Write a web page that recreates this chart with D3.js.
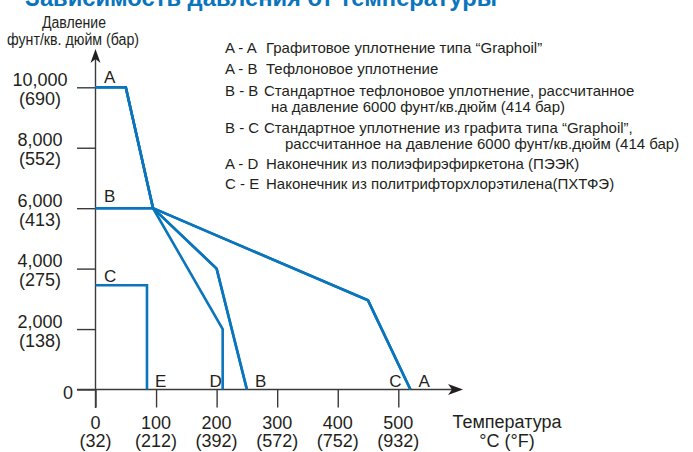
<!DOCTYPE html>
<html><head><meta charset="utf-8">
<script src="https://cdn.jsdelivr.net/npm/d3@7/dist/d3.min.js"></script>
<style>
body{margin:0;background:#fff}
svg{display:block}
text{font-family:"Liberation Sans",Arial,Helvetica,sans-serif;fill:#231f20}
</style>
</head><body>
<svg id="chart" width="693" height="452"></svg>
<script>
// ---------- data ----------
const titleText = "Зависимость давления от температуры";
const yTitle = ["Давление", "фунт/кв. дюйм (бар)"];
const xTitle = ["Температура", "°C (°F)"];

const xTicks = [0, 100, 200, 300, 400, 500];
const xTickC = ["0", "100", "200", "300", "400", "500"];
const xTickF = ["(32)", "(212)", "(392)", "(572)", "(752)", "(932)"];

const yTicks = [0, 2000, 4000, 6000, 8000, 10000];
const yTickPsi = ["0", "2,000", "4,000", "6,000", "8,000", "10,000"];
const yTickBar = ["", "(138)", "(275)", "(413)", "(552)", "(690)"];

// series: temperature (°C) and pressure (psi)
const seriesNames = ["A - A", "A - B", "B - B", "B - C", "A - D", "C - E"];
const tempAA = [0, 50, 95, 450, 520];   const presAA = [10000, 10000, 6000, 2950, 0];
const tempAB = [0, 50, 95, 200, 250];   const presAB = [10000, 10000, 6000, 4000, 0];
const tempBB = [0, 95, 200, 250];       const presBB = [6000, 6000, 4000, 0];
const tempBC = [0, 95, 450, 520];       const presBC = [6000, 6000, 2950, 0];
const tempAD = [0, 50, 95, 210, 210];   const presAD = [10000, 10000, 6000, 2000, 0];
const tempCE = [0, 85, 85];             const presCE = [3450, 3450, 0];

// point letters: letter, temperature, pressure
const pointLetters = ["A", "B", "C", "E", "D", "B", "C", "A"];
const pointTemps   = [0, 0, 0, 85, 210, 250, 520, 520];
const pointPres    = [10000, 6000, 3450, 0, 0, 0, 0, 0];

// legend
const legendCodes = ["A - A", "A - B", "B - B", "", "B - C", "", "A - D", "C - E"];
const legendTexts = [
  "Графитовое уплотнение типа “Graphoil”",
  "Тефлоновое уплотнение",
  "Стандартное тефлоновое уплотнение, рассчитанное",
  "на давление 6000 фунт/кв.дюйм (414 бар)",
  "Стандартное уплотнение из графита типа “Graphoil”,",
  "рассчитанное на давление 6000 фунт/кв.дюйм (414 бар)",
  "Наконечник из полиэфирэфиркетона (ПЭЭК)",
  "Наконечник из политрифторхлорэтилена(ПХТФЭ)"
];

// ---------- drawing ----------
const blue = "#0a74bd";
const axisCol = "#3a3a3a";
const svg = d3.select("#chart");

const x = d3.scaleLinear().domain([0, 500]).range([95.5, 398.3]);
const y = d3.scaleLinear().domain([0, 10000]).range([389.5, 87.3]);

// title (cut at top)
svg.append("text").attr("x", 25).attr("y", 5.5)
  .attr("font-size", 24).attr("font-weight", "bold")
  .style("fill", blue).attr("textLength", 472).attr("lengthAdjust", "spacingAndGlyphs")
  .text(titleText);

// axes ticks via d3.axis
const gx = svg.append("g").attr("transform", `translate(0,${y(0)})`)
  .call(d3.axisBottom(x).tickValues(xTicks).tickSize(18).tickFormat(""));
gx.select(".domain").remove();
gx.selectAll("line").attr("stroke", axisCol).attr("stroke-width", 1.4);

const gy = svg.append("g").attr("transform", `translate(${x(0)},0)`)
  .call(d3.axisLeft(y).tickValues(yTicks).tickSize(18.5).tickFormat(""));
gy.select(".domain").remove();
gy.selectAll("line").attr("stroke", axisCol).attr("stroke-width", 1.4);

// axis lines with arrows
const xEnd = 463, yTop = 49;
svg.append("line").attr("x1", 77).attr("x2", xEnd - 8).attr("y1", y(0)).attr("y2", y(0))
  .attr("stroke", axisCol).attr("stroke-width", 1.4);
svg.append("line").attr("x1", x(0)).attr("x2", x(0)).attr("y1", yTop + 8).attr("y2", 408)
  .attr("stroke", axisCol).attr("stroke-width", 1.4);
svg.append("path")
  .attr("d", `M${xEnd},${y(0)} L${xEnd - 15},${y(0) - 5.5} L${xEnd - 11},${y(0)} L${xEnd - 15},${y(0) + 5.5} Z`)
  .attr("fill", "#231f20");
svg.append("path")
  .attr("d", `M${x(0)},${yTop} L${x(0) - 5},${yTop + 14} L${x(0)},${yTop + 10} L${x(0) + 5},${yTop + 14} Z`)
  .attr("fill", "#231f20");

// y tick labels
yTicks.forEach((v, i) => {
  if (v === 0) {
    svg.append("text").attr("x", 73).attr("y", y(v) + 9).attr("text-anchor", "end")
      .attr("font-size", 18).text(yTickPsi[i]);
  } else {
    svg.append("text").attr("x", 40).attr("y", y(v) - 1.5).attr("text-anchor", "middle")
      .attr("font-size", 18).text(yTickPsi[i]);
    svg.append("text").attr("x", 40).attr("y", y(v) + 17.5).attr("text-anchor", "middle")
      .attr("font-size", 18).text(yTickBar[i]);
  }
});
// x tick labels
xTicks.forEach((v, i) => {
  svg.append("text").attr("x", x(v)).attr("y", 428.5).attr("text-anchor", "middle")
    .attr("font-size", 18).text(xTickC[i]);
  svg.append("text").attr("x", x(v)).attr("y", 447).attr("text-anchor", "middle")
    .attr("font-size", 18).text(xTickF[i]);
});

// axis titles
svg.append("text").attr("x", 74).attr("y", 28).attr("text-anchor", "middle")
  .attr("font-size", 16).attr("textLength", 64).attr("lengthAdjust", "spacingAndGlyphs").text(yTitle[0]);
svg.append("text").attr("x", 73).attr("y", 44.5).attr("text-anchor", "middle")
  .attr("font-size", 16).attr("textLength", 132).attr("lengthAdjust", "spacingAndGlyphs").text(yTitle[1]);
svg.append("text").attr("x", 507).attr("y", 428).attr("text-anchor", "middle")
  .attr("font-size", 18).text(xTitle[0]);
svg.append("text").attr("x", 507).attr("y", 446.5).attr("text-anchor", "middle")
  .attr("font-size", 18).text(xTitle[1]);

// series lines
const temps = [tempAA, tempAB, tempBB, tempBC, tempAD, tempCE];
const pres  = [presAA, presAB, presBB, presBC, presAD, presCE];
const line = d3.line().x(d => x(d[0])).y(d => y(d[1]));
temps.forEach((t, k) => {
  const pts = t.map((tv, j) => [tv, pres[k][j]]);
  svg.append("path").attr("d", line(pts)).attr("fill", "none")
    .attr("stroke", blue).attr("stroke-width", 2.6).attr("stroke-linejoin", "miter");
});

// point letters
const letterOffsets = [[8.5, -4.5, "start"], [8.5, -6.5, "start"], [8.5, -3, "start"],
  [8, -2.5, "start"], [-1, -2.5, "end"], [8, -2.5, "start"], [-9, -2.5, "end"], [8, -2.5, "start"]];
pointLetters.forEach((L, i) => {
  const o = letterOffsets[i];
  svg.append("text").attr("x", x(pointTemps[i]) + o[0]).attr("y", y(pointPres[i]) + o[1])
    .attr("text-anchor", o[2]).attr("font-size", 17).text(L);
});

// legend
const legendY = [52.5, 74.3, 96.3, 112, 133.3, 148.5, 168.7, 189];
const legendX = [266, 266, 264, 271, 264, 285, 266, 266];
legendTexts.forEach((s, i) => {
  if (legendCodes[i]) {
    svg.append("text").attr("x", 225).attr("y", legendY[i]).attr("font-size", 15).text(legendCodes[i]);
  }
  svg.append("text").attr("x", legendX[i]).attr("y", legendY[i]).attr("font-size", 15).text(s);
});
</script>
</body></html>
